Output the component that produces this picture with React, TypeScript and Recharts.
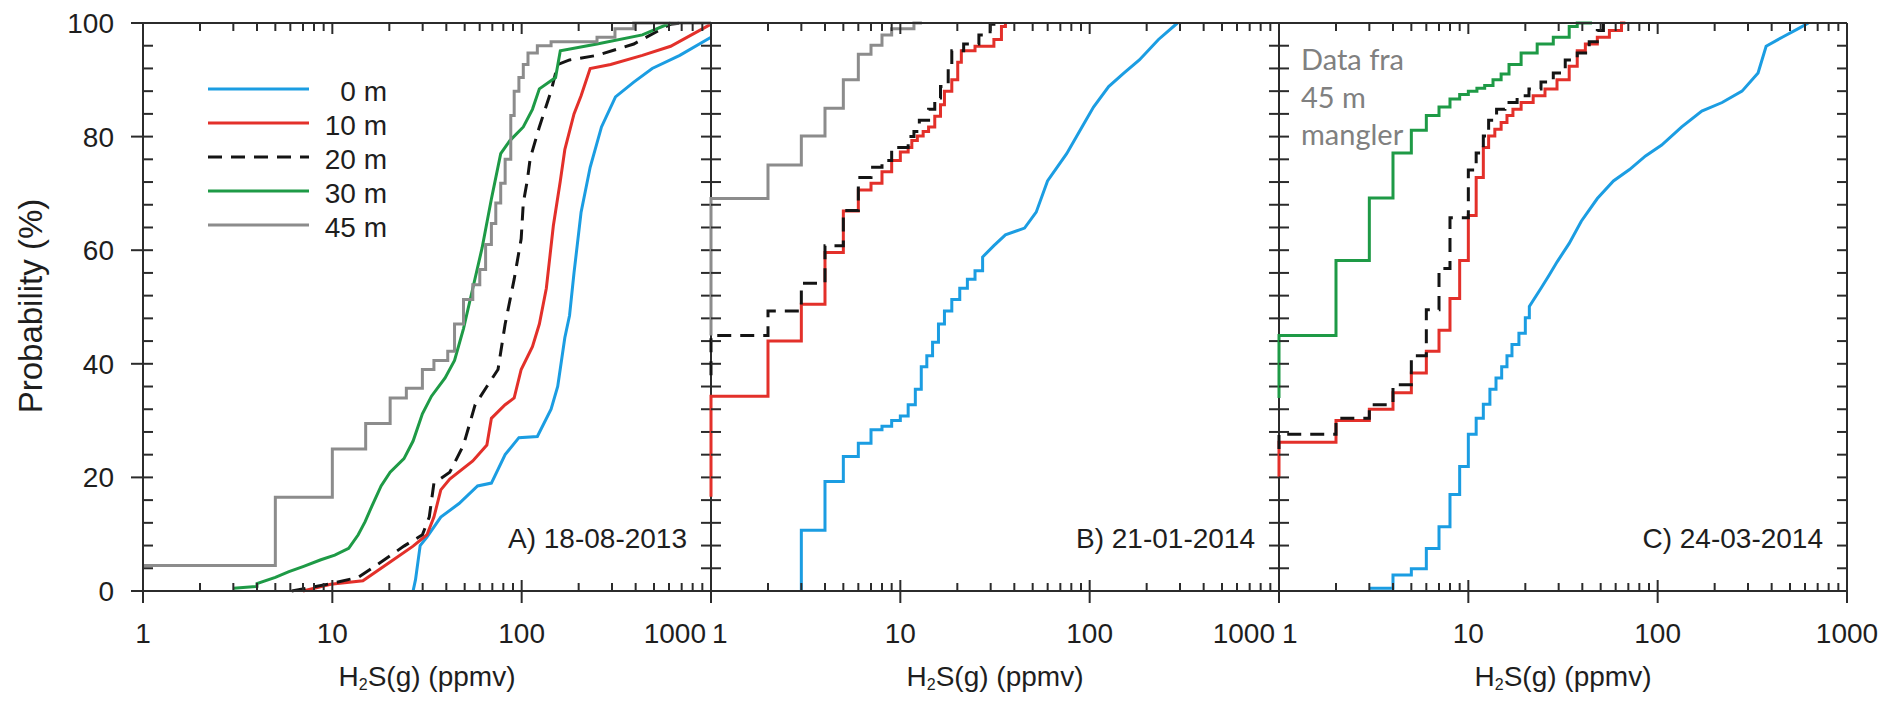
import React from 'react';
import { LineChart, Line, XAxis, YAxis, Legend } from 'recharts';

type Pt = [number, number];

// ---------- Panel A : 18-08-2013 (H2S ppmv, cumulative probability %) ----------
const A_0m: Pt[] = [[26.7, 0], [27.5, 2], [29.1, 8], [31.6, 9.5], [37.4, 13], [46.7, 15.4], [58.5, 18.5], [69.2, 19], [81.8, 24], [96.7, 27], [121, 27.2], [143, 32], [155, 36], [169, 44.6], [179, 48.5], [189, 56], [206, 66.7], [230, 74.6], [264, 81.7], [313, 87], [391, 89.6], [489, 92], [684, 94.3], [1000, 97.5]];
const A_10m: Pt[] = [[7.0, 0], [9.8, 1.2], [14.5, 1.8], [20.2, 5.1], [26.7, 7.9], [31.6, 9.9], [34.4, 13], [37.4, 17.8], [41.7, 19.7], [55.2, 22.9], [65.5, 25.7], [69.2, 30.4], [81.8, 32.8], [91.3, 34], [99.4, 39], [114, 43], [124, 47], [135, 53.3], [147, 64.3], [160, 72.2], [169, 77.7], [189, 84], [206, 87.2], [230, 92], [295, 92.7], [434, 94.3], [612, 95.9], [1000, 99.8]];
const A_20m: Pt[] = [[6.1, 0], [9.8, 1.3], [13.7, 2.4], [18.1, 5.1], [23.9, 7.9], [29.9, 9.9], [32.5, 13], [34.4, 19], [41.7, 20.9], [49.3, 25.7], [56.8, 32.8], [65.5, 36], [75, 39], [81.8, 47], [91.3, 54.9], [99.4, 62], [102, 68.3], [107, 72.2], [111, 76.2], [124, 81.7], [143, 88], [155, 92.7], [179, 93.5], [250, 94.3], [391, 96.3], [612, 99.8], [700, 100]];
const A_30m: Pt[] = [[3.0, 0.5], [4.0, 0.8], [4.0, 1.3], [5.0, 2.4], [5.9, 3.4], [7.0, 4.3], [8.7, 5.5], [10.3, 6.3], [12.2, 7.5], [13.7, 9.9], [14.9, 12.2], [16.2, 15], [18.1, 18.5], [20.2, 20.9], [23.9, 23.3], [26.7, 26.4], [29.9, 31.2], [33.4, 34.3], [39.4, 37.5], [44.2, 40.6], [49.3, 46.2], [55.2, 53.3], [61.8, 60.4], [69.2, 69], [77.5, 77], [86.7, 79.3], [102, 81.7], [114, 84.8], [124, 88.4], [151, 90.4], [160, 95.1], [250, 96.3], [434, 97.9], [612, 100]];
const A_45m: Pt[] = [[1, 4.5], [5, 16.5], [10, 25], [15, 29.5], [20.2, 34], [24.6, 35.7], [29.9, 39], [34.4, 40.6], [40.7, 42.2], [44.2, 47], [49.3, 51.3], [55.2, 53.9], [60.1, 56.6], [64.5, 61], [69.2, 64.7], [73, 68.3], [77.5, 71.8], [81.8, 76], [87.6, 83.7], [91.3, 88], [96.7, 90.4], [102, 92.7], [108, 94.7], [121, 96], [143, 96.7], [250, 97.5], [311, 99], [391, 100], [1000, 100]];

// ---------- Panel B : 21-01-2014 ----------
const B_0m_steps: Pt[] = [[3, 0], [3, 10.7], [4, 19.3], [5, 23.7], [6, 26], [7, 28.4], [8, 29], [9, 30], [10, 30.8], [11, 32.8], [12, 35.5], [12.9, 39.5], [13.8, 41.4], [14.8, 43.8], [15.9, 47], [17.1, 49.3], [18.7, 51.3], [20.6, 53.3], [22.6, 54.9], [24.8, 56.4], [27.2, 58.8]];
const B_0m_smooth: Pt[] = [[31.2, 60.8], [35.9, 62.7], [45.3, 63.9], [52.2, 66.7], [59.9, 72.2], [75.6, 77], [91.1, 81.7], [104.8, 85.2], [126, 88.8], [152, 91.2], [183, 93.5], [231, 97.1], [291, 100]];
const B_10m: Pt[] = [[1, 16.6], [1, 34.3], [2, 44], [3, 50.5], [4, 59.6], [5, 66.9], [6, 70.6], [7, 71.8], [8, 73.8], [9, 75.8], [10, 77.3], [11, 78.1], [11.5, 79.3], [12.3, 80.1], [13.2, 80.9], [14.1, 81.7], [15.2, 83.6], [16.3, 85.6], [17.1, 88], [18.7, 90], [20.1, 93.1], [21, 95.1], [24.8, 95.9], [31.2, 97.1], [34.2, 99.4], [35.9, 100]];
const B_20m: Pt[] = [[1, 38], [1, 45], [2, 49.3], [3, 54.2], [4, 60.8], [5, 67], [6, 72.8], [7, 74.6], [8, 75.8], [9, 78.1], [11, 80], [11.8, 80.9], [12.6, 82.9], [14.1, 84.8], [15.2, 86.8], [16.3, 88.8], [17.9, 91.9], [18.7, 95.1], [21.6, 96.3], [26, 97.9], [29.8, 99.8], [31.2, 100]];
const B_45m: Pt[] = [[1, 45], [1, 69.1], [2, 75], [3, 80.1], [4, 85], [5, 90], [6, 94.5], [7, 96.1], [8, 97.9], [9, 99], [11.8, 100], [13, 100]];

// ---------- Panel C : 24-03-2014 (no 45 m data) ----------
const C_0m_steps: Pt[] = [[3, 0.5], [4, 2.8], [5, 3.9], [6, 7.5], [7, 11.3], [8, 17], [9, 21.9], [10, 27.6], [11, 30.4], [12, 32.9], [13, 35.5], [14, 37.5], [15, 39.5], [16, 41.4], [17, 43.4], [18.5, 45.4], [20, 48.1], [21, 50.1]];
const C_0m_smooth: Pt[] = [[24.2, 53.3], [26.7, 55.6], [29.5, 58], [34.1, 61.2], [39.5, 65.1], [48, 69.1], [58.4, 72.2], [71, 74.2], [86.3, 76.6], [105, 78.5], [134, 81.7], [171, 84.5], [219, 86], [279, 88], [339, 91.2], [374, 95.9], [455, 97.5], [553, 99], [626, 100]];
const C_10m: Pt[] = [[1, 20.1], [1, 26.2], [2, 30], [3, 32], [4, 34.9], [5, 38.4], [6, 42.2], [7, 45.9], [8, 51.5], [9, 58.2], [10, 66.1], [11, 72.8], [12, 78.1], [12.8, 80.1], [13.8, 81.3], [14.9, 82.5], [16, 83.7], [17.2, 84.8], [19, 86], [22, 87.2], [25.4, 88.4], [29.4, 90], [34.1, 92.4], [37.6, 95.1], [41.5, 96.3], [48, 97.5], [55.6, 98.7], [64.4, 100], [67.5, 100]];
const C_20m: Pt[] = [[1, 25], [1, 27.6], [2, 30.4], [3, 32.8], [4, 36.3], [5, 41.4], [6, 49.5], [7, 56.8], [8, 65.7], [10, 74.1], [11, 77.1], [12, 80.1], [12.8, 82.9], [14.1, 84.8], [15.6, 86], [18.1, 87.2], [20.9, 88.4], [24.2, 89.6], [28.1, 91.2], [32.5, 93.5], [37.6, 94.7], [43.5, 96.7], [48, 98.7], [51.7, 100]];
const C_30m: Pt[] = [[1, 34], [1, 45], [2, 58.2], [3, 69.2], [4, 77.1], [5, 81.1], [6, 83.7], [7, 85.2], [8, 86.6], [9, 87.4], [10, 88], [11.1, 88.5], [12.2, 89], [13.5, 90], [14.9, 91], [16.4, 92.7], [19, 94.7], [23.1, 96.3], [28.1, 97.5], [34.1, 99.4], [37.6, 100], [45, 100]];

// ---------- labels / ticks ----------
const seriesNames = ['0 m', '10 m', '20 m', '30 m', '45 m'];
const seriesColors = ['#1b9de2', '#e3302a', '#141414', '#1e9a46', '#8c8c8c'];
const panelTitles = ['A) 18-08-2013', 'B) 21-01-2014', 'C) 24-03-2014'];
const noteLines = ['Data fra', '45 m', 'mangler'];
const xTitle = ['H', '2', 'S(g) (ppmv)'];
const yTitle = 'Probability (%)';
const xTicks = [1, 2, 3, 4, 5, 6, 7, 8, 9, 10, 20, 30, 40, 50, 60, 70, 80, 90, 100, 200, 300, 400, 500, 600, 700, 800, 900, 1000];
const yTicks = [0, 4, 8, 12, 16, 20, 24, 28, 32, 36, 40, 44, 48, 52, 56, 60, 64, 68, 72, 76, 80, 84, 88, 92, 96, 100];

// step function corners (same path a stepAfter curve would take)
const stepCorners = (pts: Pt[]): Pt[] =>
  pts.flatMap((p, i) => (i === 0 ? [p] : [[p[0], pts[i - 1][1]] as Pt, p]));

const B_0m: Pt[] = [...stepCorners(B_0m_steps), ...B_0m_smooth];
const C_0m: Pt[] = [...stepCorners(C_0m_steps), ...C_0m_smooth];

const panelSeries: (Pt[] | null)[][] = [
  [A_0m, A_10m, A_20m, A_30m, A_45m],
  [B_0m, B_10m, B_20m, null, B_45m],
  [C_0m, C_10m, C_20m, C_30m, null],
];
const panelCurves: string[][] = [
  ['linear', 'linear', 'linear', 'linear', 'stepAfter'],
  ['linear', 'stepAfter', 'stepAfter', 'stepAfter', 'stepAfter'],
  ['linear', 'stepAfter', 'stepAfter', 'stepAfter', 'stepAfter'],
];

// ---------- layout ----------
const W = 1890;
const H = 704;
const TOP = 23;
const BOTTOM = 591;
const PW = 568;
const LEFTS = [143, 711, 1279];
const AXIS = '#2b2b2b';
const TXT = '#1e1e1e';
const FONT = '"Liberation Sans", Arial, Helvetica, sans-serif';

const isDecade = (v: number) => Math.abs(Math.log10(v) - Math.round(Math.log10(v))) < 1e-9;

const BottomTick = (props: any) => {
  const { x, y, payload, panel } = props;
  const v = payload.value;
  const major = isDecade(v);
  let anchor: 'start' | 'middle' | 'end' = 'middle';
  let dx = 0;
  if (v === 1 && panel > 0) { anchor = 'start'; dx = panel === 1 ? 1 : 3; }
  if (v === 1000 && panel < 2) { anchor = 'end'; dx = panel === 0 ? -5 : -4; }
  return (
    <g>
      <line x1={x} x2={x} y1={y - (major ? 11 : 8)} y2={y + (major ? 12 : 0)} stroke={AXIS} strokeWidth={2} />
      {major && (
        <text x={x + dx} y={y + 52} textAnchor={anchor} fontSize={28} fontFamily={FONT} fill={TXT}>
          {v}
        </text>
      )}
    </g>
  );
};

const TopTick = (props: any) => {
  const { x, y, payload } = props;
  const major = isDecade(payload.value);
  return <line x1={x} x2={x} y1={y} y2={y + (major ? 11 : 8)} stroke={AXIS} strokeWidth={2} />;
};

const LeftTick = (props: any) => {
  const { x, y, payload, panel } = props;
  const v = payload.value;
  const major = v % 20 === 0;
  const outer = panel === 0 && major ? 12 : 0;
  return (
    <g>
      <line x1={x - outer} x2={x + 10} y1={y} y2={y} stroke={AXIS} strokeWidth={2} />
      {panel === 0 && major && (
        <text x={x - 29} y={y} dy="0.36em" textAnchor="end" fontSize={28} fontFamily={FONT} fill={TXT}>
          {v}
        </text>
      )}
    </g>
  );
};

const RightTick = (props: any) => {
  const { x, y } = props;
  return <line x1={x - 10} x2={x} y1={y} y2={y} stroke={AXIS} strokeWidth={2} />;
};

const LegendBox = () => (
  <svg width={200} height={175} style={{ display: 'block' }}>
    {seriesNames.map((n, i) => {
      const yy = 19 + i * 34;
      return (
        <g key={n}>
          <line x1={8} x2={109} y1={yy} y2={yy} stroke={seriesColors[i]} strokeWidth={3}
            strokeDasharray={i === 2 ? '14 9' : undefined} />
          <text x={187} y={yy + 1.5} dy="0.36em" textAnchor="end" fontSize={28} fontFamily={FONT} fill={TXT}>
            {n}
          </text>
        </g>
      );
    })}
  </svg>
);

const Panel = ({ index }: { index: number }) => {
  const L = LEFTS[index];
  const series = panelSeries[index];
  return (
    <div style={{ position: 'absolute', left: 0, top: 0 }}>
      <LineChart width={W} height={H} margin={{ top: TOP - 1, bottom: H - BOTTOM - 1, left: L - 1, right: W - L - PW - 1 }}>
        <XAxis xAxisId="b" dataKey="x" type="number" scale="log" domain={[1, 1000]}
          ticks={xTicks} interval={0} height={1} tickSize={0} tickMargin={0} tickLine={false}
          axisLine={{ stroke: AXIS, strokeWidth: 2 }}
          tick={(p: any) => <BottomTick {...p} panel={index} />} />
        <XAxis xAxisId="t" orientation="top" dataKey="x" type="number" scale="log" domain={[1, 1000]} allowDataOverflow
          ticks={xTicks} interval={0} height={1} tickSize={0} tickMargin={0} tickLine={false}
          axisLine={{ stroke: AXIS, strokeWidth: 2 }}
          tick={(p: any) => <TopTick {...p} />} />
        <YAxis yAxisId="l" type="number" domain={[0, 100]} ticks={yTicks} interval={0}
          width={1} tickSize={0} tickMargin={0} tickLine={false}
          axisLine={index === 0 ? { stroke: AXIS, strokeWidth: 2 } : false}
          tick={(p: any) => <LeftTick {...p} panel={index} />} />
        <YAxis yAxisId="r" orientation="right" type="number" domain={[0, 100]} allowDataOverflow ticks={yTicks} interval={0}
          width={1} tickSize={0} tickMargin={0} tickLine={false}
          axisLine={{ stroke: AXIS, strokeWidth: 2 }}
          tick={(p: any) => <RightTick {...p} />} />
        {series.map((pts, i) =>
          pts ? (
            <Line key={i} xAxisId="b" yAxisId="l" data={pts.map(([x, y]) => ({ x, y }))} dataKey="y"
              name={seriesNames[i]} type={panelCurves[index][i] as any} stroke={seriesColors[i]} strokeWidth={3}
              strokeDasharray={i === 2 ? '14 9' : undefined} dot={false} activeDot={false}
              isAnimationActive={false} />
          ) : null
        )}
        {index === 0 && (
          <Legend layout="vertical" align="center" verticalAlign="middle" content={() => <LegendBox />}
            wrapperStyle={{ position: 'absolute', left: 200, top: 70, width: 200, height: 175 }} />
        )}
      </LineChart>
    </div>
  );
};

export default function App() {
  return (
    <div style={{ position: 'absolute', left: 0, top: 0, width: W, height: H, overflow: 'hidden', background: '#fff', fontFamily: FONT }}>
      {[0, 1, 2].map((i) => <Panel key={i} index={i} />)}
      {[0, 1, 2].map((i) => (
        <div key={'t' + i} style={{ position: 'absolute', left: LEFTS[i], top: 525, width: PW - 24, textAlign: 'right', fontSize: 28, lineHeight: '28px', color: TXT, whiteSpace: 'nowrap' }}>
          {panelTitles[i]}
        </div>
      ))}
      {[0, 1, 2].map((i) => (
        <div key={'x' + i} style={{ position: 'absolute', left: LEFTS[i], top: 663, width: PW, textAlign: 'center', fontSize: 28, lineHeight: '28px', color: TXT, whiteSpace: 'nowrap' }}>
          {xTitle[0]}<span style={{ fontSize: 16, verticalAlign: '-4px' }}>{xTitle[1]}</span>{xTitle[2]}
        </div>
      ))}
      <div style={{ position: 'absolute', left: 31 - 200, top: 306 - 17, width: 400, height: 34, textAlign: 'center', fontSize: 33, lineHeight: '34px', color: TXT, transform: 'rotate(-90deg)', transformOrigin: '50% 50%', whiteSpace: 'nowrap' }}>
        {yTitle}
      </div>
      <div style={{ position: 'absolute', left: 1301, top: 40, fontFamily: 'Lato, "Open Sans", sans-serif', fontSize: 29, lineHeight: '37.5px', color: '#808080', whiteSpace: 'nowrap' }}>
        {noteLines.map((l) => <div key={l}>{l}</div>)}
      </div>
    </div>
  );
}
